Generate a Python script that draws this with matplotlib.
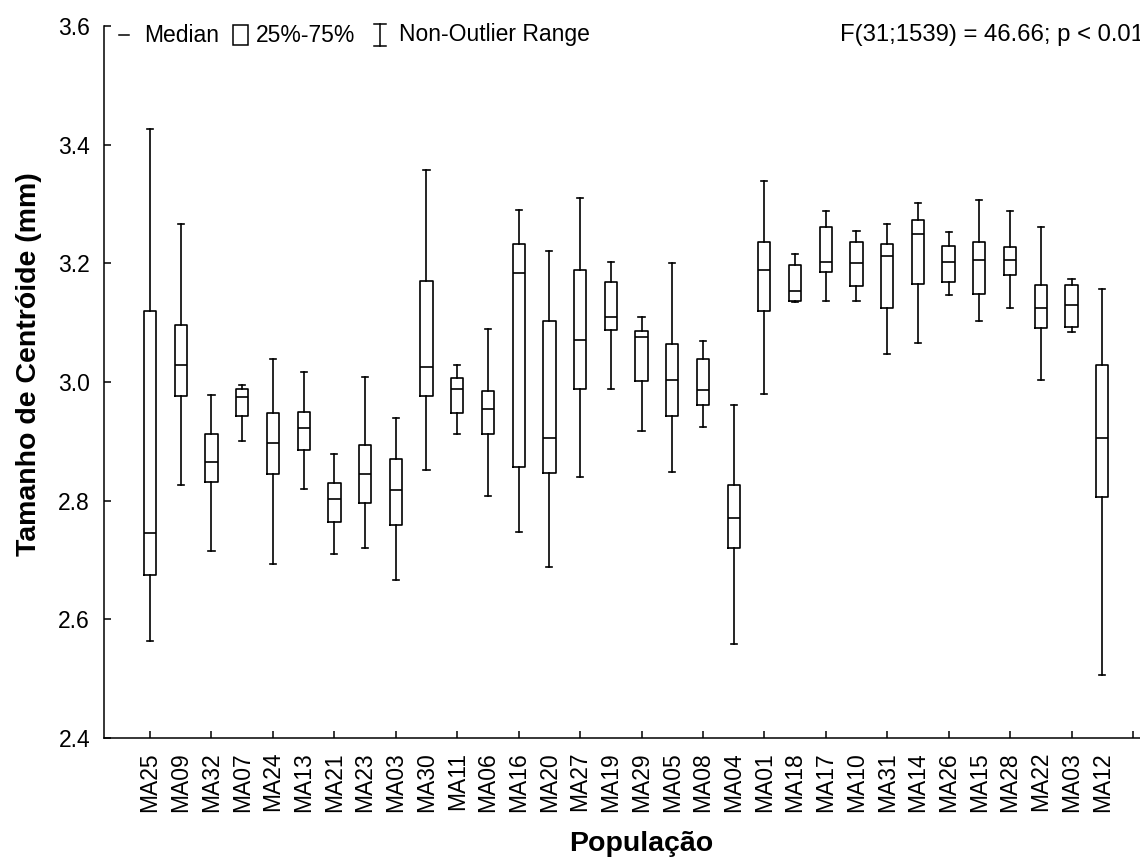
import numpy as np
import matplotlib
matplotlib.use("Agg")
from matplotlib import pyplot as plt
from matplotlib.lines import Line2D
from matplotlib.patches import Rectangle

plt.rcParams['font.family'] = ['Liberation Sans', 'DejaVu Sans']

populations = ["MA25", "MA09", "MA32", "MA07", "MA24", "MA13", "MA21", "MA23",
               "MA03", "MA30", "MA11", "MA06", "MA16", "MA20", "MA27", "MA19",
               "MA29", "MA05", "MA08", "MA04", "MA01", "MA18", "MA17", "MA10",
               "MA31", "MA14", "MA26", "MA15", "MA28", "MA22", "MA03", "MA12"]
medians = [2.745, 3.028, 2.866, 2.974, 2.898, 2.923, 2.803, 2.845, 2.818, 3.026,
           2.988, 2.954, 3.183, 2.905, 3.071, 3.110, 3.076, 3.004, 2.986, 2.771,
           3.188, 3.154, 3.203, 3.200, 3.212, 3.249, 3.203, 3.205, 3.205, 3.125,
           3.129, 2.905]
q25 = [2.674, 2.976, 2.832, 2.942, 2.845, 2.885, 2.764, 2.796, 2.759, 2.976,
       2.947, 2.912, 2.856, 2.847, 2.988, 3.088, 3.001, 2.942, 2.962, 2.720,
       3.120, 3.137, 3.185, 3.161, 3.125, 3.166, 3.169, 3.149, 3.180, 3.091,
       3.093, 2.807]
q75 = [3.120, 3.096, 2.912, 2.988, 2.947, 2.949, 2.829, 2.893, 2.871, 3.171,
       3.006, 2.985, 3.232, 3.102, 3.188, 3.169, 3.086, 3.064, 3.039, 2.827,
       3.236, 3.198, 3.261, 3.236, 3.232, 3.273, 3.229, 3.236, 3.227, 3.164,
       3.164, 3.028]
range_min = [2.564, 2.827, 2.715, 2.901, 2.693, 2.820, 2.710, 2.720, 2.666, 2.852,
             2.912, 2.808, 2.747, 2.688, 2.840, 2.988, 2.918, 2.849, 2.925, 2.559,
             2.979, 3.135, 3.137, 3.137, 3.047, 3.066, 3.147, 3.103, 3.125, 3.003,
             3.085, 2.506]
range_max = [3.427, 3.266, 2.978, 2.995, 3.039, 3.017, 2.879, 3.009, 2.939, 3.358,
             3.029, 3.090, 3.290, 3.220, 3.310, 3.202, 3.110, 3.200, 3.069, 2.962,
             3.339, 3.215, 3.288, 3.255, 3.266, 3.302, 3.253, 3.307, 3.288, 3.261,
             3.173, 3.156]
y_ticks = [2.4, 2.6, 2.8, 3.0, 3.2, 3.4, 3.6]
stat_text = "F(31;1539) = 46.66; p < 0.01"

W, H = 1140, 860
fig = plt.figure(figsize=(W / 100, H / 100), dpi=100)
# axes runs past the right edge, like the cropped original
ax = fig.add_axes([104 / W, 1 - 738 / H, 1075 / W, 712 / H])

stats = []
for i in range(len(populations)):
    stats.append(dict(med=medians[i], q1=q25[i], q3=q75[i],
                      whislo=range_min[i], whishi=range_max[i], fliers=[]))

lw = 1.2
pos = np.arange(len(populations))
ax.bxp(stats, positions=pos, widths=0.4, capwidths=0.2, showfliers=False,
       boxprops=dict(color="black", linewidth=lw),
       whiskerprops=dict(color="black", linewidth=lw),
       capprops=dict(color="black", linewidth=lw),
       medianprops=dict(color="black", linewidth=lw))

ax.set_xlim(-1.5, 33.5)
ax.set_ylim(2.4, 3.6)
ax.set_yticks(y_ticks)
ax.set_yticklabels([f"{v:.1f}" for v in y_ticks])
ax.set_xticks(pos)
ax.set_xticklabels(populations, rotation=90)
# tick marks only on every second population (plus one at the end)
for i, t in enumerate(ax.xaxis.get_major_ticks()):
    if i % 2:
        t.tick1line.set_visible(False)
ax.set_xticks([32], minor=True)
ax.tick_params(axis="both", which="both", direction="in", length=5, width=1.1,
               labelsize=16.5, pad=10, colors="black")

for s in ("top", "right"):
    ax.spines[s].set_visible(False)
for s in ("left", "bottom"):
    ax.spines[s].set_linewidth(1.1)

ax.set_ylabel("Tamanho de Centróide (mm)", fontsize=20.5, fontweight="bold")
ax.yaxis.set_label_coords(-0.058, 0.525)
ax.set_xlabel("População", fontsize=20.5, fontweight="bold")
ax.xaxis.set_label_coords(0.50, -0.13)

# legend line drawn the Statistica way
def fx(px):
    return px / W

def fy(py):
    return 1 - py / H

yc = 35
fig.add_artist(Line2D([fx(119), fx(129)], [fy(yc), fy(yc)], color="black", lw=1.1))
fig.text(fx(144), fy(yc), "Median", fontsize=16.5, va="center")
fig.add_artist(Rectangle((fx(233), fy(45)), fx(15), 20 / H, fill=False,
                         edgecolor="black", lw=1.1))
fig.text(fx(256), fy(yc), "25%-75%", fontsize=16.5, va="center")
fig.add_artist(Line2D([fx(380), fx(380)], [fy(24), fy(46)], color="black", lw=1.1))
fig.add_artist(Line2D([fx(374), fx(386)], [fy(24), fy(24)], color="black", lw=1.1))
fig.add_artist(Line2D([fx(374), fx(386)], [fy(46), fy(46)], color="black", lw=1.1))
fig.text(fx(399), fy(yc), "Non-Outlier Range", fontsize=16.5, va="center")
fig.text(fx(840), fy(yc), stat_text, fontsize=17.2, va="center")

fig.savefig("out.png", dpi=100)
